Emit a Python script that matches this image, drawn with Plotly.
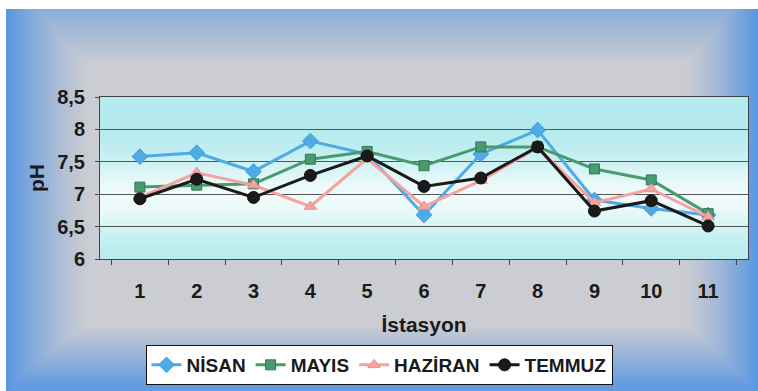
import base64
import struct
import zlib

import numpy as np
import plotly.graph_objects as go

# pH readings per station and month
stations = ["1", "2", "3", "4", "5", "6", "7", "8", "9", "10", "11"]
nisan = [7.58, 7.64, 7.35, 7.82, 7.62, 6.68, 7.62, 7.99, 6.91, 6.78, 6.68]
mayis = [7.11, 7.14, 7.16, 7.54, 7.66, 7.44, 7.73, 7.73, 7.39, 7.22, 6.70]
haziran = [6.95, 7.33, 7.14, 6.81, 7.55, 6.81, 7.21, 7.72, 6.87, 7.08, 6.65]
temmuz = [6.93, 7.23, 6.95, 7.29, 7.59, 7.12, 7.25, 7.73, 6.74, 6.90, 6.51]
y_ticks = [6, 6.5, 7, 7.5, 8, 8.5]
y_tick_text = ["6", "6,5", "7", "7,5", "8", "8,5"]

W, H = 758, 391
ML, MR, MT, MB = 100, 10, 97, 132
PW, PH = W - ML - MR, H - MT - MB


def png_uri(arr):
    arr = np.clip(arr, 0, 255).astype(np.uint8)
    h, w, _ = arr.shape
    raw = b"".join(b"\x00" + arr[i].tobytes() for i in range(h))

    def chunk(tag, data):
        c = struct.pack(">I", len(data)) + tag + data
        return c + struct.pack(">I", zlib.crc32(tag + data) & 0xFFFFFFFF)

    png = (b"\x89PNG\r\n\x1a\n"
           + chunk(b"IHDR", struct.pack(">IIBBBBB", w, h, 8, 2, 0, 0, 0))
           + chunk(b"IDAT", zlib.compress(raw, 9))
           + chunk(b"IEND", b""))
    return "data:image/png;base64," + base64.b64encode(png).decode()


# page backdrop: grey centre fading to blue at the edges
xx, yy = np.meshgrid(np.arange(W, dtype=float), np.arange(H, dtype=float))
b_left = np.clip(1 - (xx - 6) / 85, 0, 1) ** 1.3
b_right = np.clip(1 - (W - 1 - xx) / 75, 0, 1) ** 1.3
b_top = 0.55 * np.clip(1 - (yy - 9) / 55, 0, 1)
b_bot = 0.9 * np.clip((yy - 325) / 60, 0, 1)
blend = np.maximum.reduce([b_left, b_right, b_top, b_bot])[..., None]
grey = np.array([204, 205, 210], float)
blue = np.array([88, 150, 226], float)
page = grey * (1 - blend) + blue * blend
page[(xx < 6) | (yy < 9)] = 255
page_img = png_uri(page)

# plot area: cyan bands with a pale middle
v = np.linspace(0, 1, PH)[:, None, None]
w = np.exp(-((v - 0.62) / 0.24) ** 2)
cyan = np.array([180, 235, 238], float)
pale = np.array([240, 251, 251], float)
plot_arr = np.repeat(cyan * (1 - w) + pale * w, 8, axis=1)
plot_img = png_uri(plot_arr)

bold = dict(family="Liberation Sans, Arial, sans-serif", color="#1a1a1a", weight="bold")

series = [
    ("NİSAN", nisan, "#4FAAE6", "#3f9ad8", "diamond", 12),
    ("MAYIS", mayis, "#4A9A70", "#2f7a55", "square", 10),
    ("HAZİRAN", haziran, "#F4A3A0", "#ee8f88", "triangle-up", 11),
    ("TEMMUZ", temmuz, "#1a1a1a", "#111111", "circle", 12),
]

fig = go.Figure()
for name, vals, color, edge, sym, size in series:
    fig.add_trace(go.Scatter(
        x=stations, y=vals, name=name, mode="lines+markers",
        line=dict(color=color, width=3),
        marker=dict(symbol=sym, size=size, color=color, line=dict(color=edge, width=1)),
    ))

fig.update_layout(
    width=W, height=H,
    margin=dict(l=ML, r=MR, t=MT, b=MB, autoexpand=False),
    paper_bgcolor="white",
    plot_bgcolor="rgba(0,0,0,0)",
    images=[
        dict(source=page_img, xref="paper", yref="paper",
             x=-ML / PW, y=1 + MT / PH, sizex=W / PW, sizey=H / PH,
             xanchor="left", yanchor="top", sizing="stretch", layer="below"),
        dict(source=plot_img, xref="paper", yref="paper",
             x=0, y=1, sizex=1, sizey=1,
             xanchor="left", yanchor="top", sizing="stretch", layer="below"),
    ],
    xaxis=dict(
        type="category", tickson="boundaries", ticks="outside", ticklen=5,
        tickcolor="#444", showgrid=False, showline=True, linecolor="#444",
        linewidth=1, mirror=True, ticklabelstandoff=14, automargin=False,
        tickfont=dict(size=20, **bold),
        title=dict(text="İstasyon", font=dict(size=21, **bold), standoff=16),
    ),
    yaxis=dict(
        range=[6, 8.5], tickvals=y_ticks, ticktext=y_tick_text,
        ticks="outside", ticklen=4, tickcolor="#444",
        showgrid=True, gridcolor="#555", gridwidth=1,
        showline=True, linecolor="#444", linewidth=1, mirror=True,
        zeroline=False, ticklabelstandoff=6, automargin=False,
        tickfont=dict(size=20, **bold),
        title=dict(text="pH", font=dict(size=21, **bold), standoff=6),
    ),
    legend=dict(
        orientation="h", xref="container", yref="container",
        x=0.5, xanchor="center", y=1 - 345 / H, yanchor="top",
        bgcolor="white", bordercolor="#111", borderwidth=1,
        font=dict(size=19, **bold), itemwidth=30, tracegroupgap=0,
    ),
    showlegend=True,
)

fig.write_html("out.html")
